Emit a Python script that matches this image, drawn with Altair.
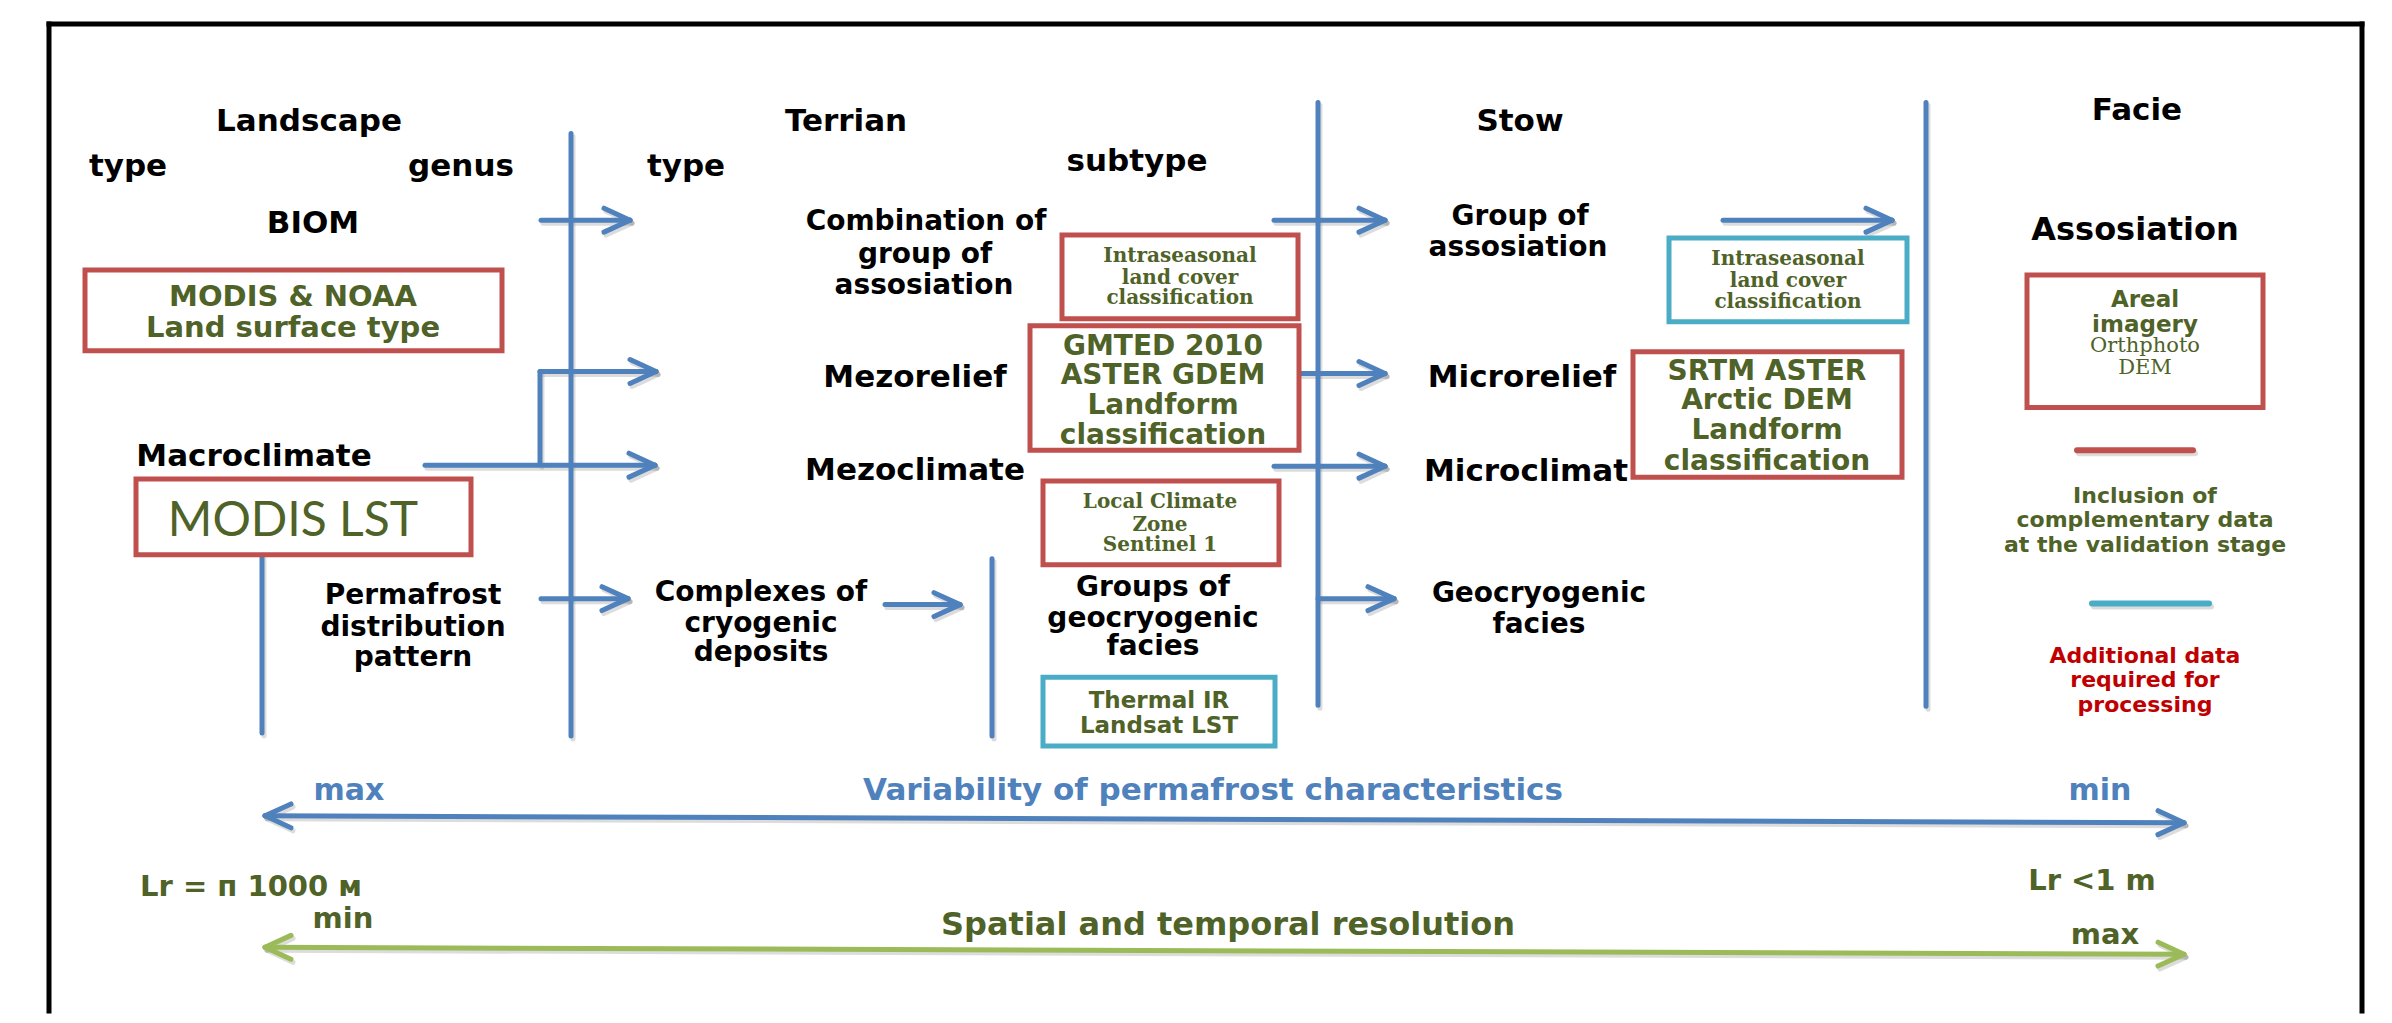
import altair as alt
import pandas as pd
import numpy as np

# ---------------- colours ----------------
BLUE = "#4f81bd"
RED = "#c0504d"
CYAN = "#4bacc6"
GREEN = "#9bbb59"
OLIVE = "#4f6228"
DARKRED = "#c00000"
BLACK = "#000000"

# ---------------- text content ----------------
header_text = ["Landscape", "type", "genus", "type", "Terrian", "subtype", "Stow", "Facie",
               "BIOM", "Combination of", "group of", "assosiation", "Group of", "assosiation",
               "Assosiation", "Mezorelief", "Microrelief", "Macroclimate", "Mezoclimate",
               "Microclimat", "Permafrost", "distribution", "pattern", "Complexes of",
               "cryogenic", "deposits", "Groups of", "geocryogenic", "facies",
               "Geocryogenic", "facies"]
header_x = [309, 128, 461, 686, 846, 1137, 1520, 2137, 313, 926, 925, 924, 1520, 1518,
            2135, 915, 1522, 254, 915, 1526, 413, 413, 413, 761, 761, 761, 1153, 1153, 1153,
            1539, 1539]
header_y = [122, 168, 168, 168, 122, 163, 122, 111, 225, 223, 256, 287, 218, 249,
            231, 379, 379, 459, 473, 474, 598, 630, 661, 595, 626, 656, 590, 621, 650,
            596, 627]
header_size = [31, 31, 31, 31, 31, 31, 31, 31, 31, 28, 28, 28, 28, 28,
               32, 31, 31, 31, 31, 31, 28, 28, 28, 28, 28, 28, 28, 28, 28, 28, 28]

olive_text = ["MODIS & NOAA", "Land surface type", "GMTED 2010", "ASTER GDEM", "Landform",
              "classification", "SRTM ASTER", "Arctic DEM", "Landform", "classification",
              "Thermal IR", "Landsat LST", "Areal", "imagery", "Inclusion of",
              "complementary data", "at the validation stage", "Lr = п 1000 м", "min",
              "Lr <1  m", "max", "Spatial and temporal resolution"]
olive_x = [293, 293, 1163, 1163, 1163, 1163, 1767, 1767, 1767, 1767, 1159, 1159, 2145, 2145,
           2145, 2145, 2145, 251, 343, 2092, 2105, 1228]
olive_y = [298, 329, 348, 377, 408, 438, 373, 403, 433, 464, 704, 729, 301, 326,
           498, 522, 547, 891, 923, 884, 939, 929]
olive_size = [29, 29, 28, 28, 28, 28, 28, 28, 28, 28, 23, 23, 23, 23, 22, 22, 22,
              29, 29, 29, 29, 32]

red_text = ["Additional data", "required for", "processing"]
red_x = [2145, 2145, 2145]
red_y = [659, 683, 708]

blue_text = ["max", "min", "Variability of permafrost characteristics"]
blue_x = [349, 2100, 1213]
blue_y = [794, 794, 794]
blue_size = [30, 30, 31]

serif_bold_text = ["Intraseasonal", "land cover", "classification",
                   "Intraseasonal", "land cover", "classification",
                   "Local Climate", "Zone", "Sentinel 1"]
serif_bold_x = [1180, 1180, 1180, 1788, 1788, 1788, 1160, 1160, 1160]
serif_bold_y = [257, 279, 299, 260, 282, 303, 504, 527, 547]

serif_text = ["Orthphoto", "DEM"]
serif_x = [2145, 2145]
serif_y = [347, 369]

lato_text = ["MODIS LST"]
lato_x = [293]
lato_y = [524]

# ---------------- boxes ----------------
box_x1 = [85, 136, 1062, 1030, 1043, 1043, 1669, 1633, 2027]
box_y1 = [271, 481, 236, 327, 483, 680, 239, 353, 276]
box_x2 = [502, 471, 1298, 1299, 1279, 1275, 1907, 1902, 2263]
box_y2 = [352, 557, 320, 452, 567, 749, 323, 479, 409]
box_col = [RED, RED, RED, RED, RED, CYAN, CYAN, RED, RED]

# ---------------- vertical dividers ----------------
vline_x = [571, 1318, 992, 1926, 262, 540]
vline_y1 = [134, 103, 561, 103, 558, 373]
vline_y2 = [739, 708, 739, 709, 736, 466]

# ---------------- arrows (tail -> tip) ----------------
arr_x1 = [541, 540, 425, 541, 885, 1274, 1301, 1274, 1318, 1723]
arr_y1 = [221, 373, 467, 601, 607, 221, 375, 468, 601, 221]
arr_x2 = [630, 656, 655, 628, 960, 1385, 1385, 1385, 1394, 1892]
arr_y2 = [221, 373, 467, 601, 607, 221, 375, 468, 601, 221]

# double arrows
darr_x1 = [265, 265]
darr_y1 = [819, 951]
darr_x2 = [2184, 2184]
darr_y2 = [826, 958]
darr_col = [BLUE, GREEN]

# legend swatches
leg_x1 = [2077, 2092]
leg_x2 = [2193, 2209]
leg_y = [452, 606]
leg_col = [RED, CYAN]

# border (left, top, right)
border_x1 = [49, 49, 2362]
border_y1 = [24, 24, 24]
border_x2 = [49, 2362, 2362]
border_y2 = [1015, 24, 1015]

# ---------------- build segment table ----------------
HEAD_L, HEAD_H = 26, 12
segs = []


def add_seg(x1, y1, x2, y2, col, w):
    segs.append(dict(x=x1, y=y1, x2=x2, y2=y2, color=col, w=w))


def add_head(tx, ty, fx, fy, col, w):
    d = np.array([tx - fx, ty - fy], dtype=float)
    d /= np.linalg.norm(d)
    n = np.array([-d[1], d[0]])
    for s in (1, -1):
        bx = tx - HEAD_L * d[0] + s * HEAD_H * n[0]
        by = ty - HEAD_L * d[1] + s * HEAD_H * n[1]
        add_seg(bx, by, tx, ty, col, w)


for x, a, b in zip(vline_x, vline_y1, vline_y2):
    add_seg(x, a, x, b, BLUE, 5)
for x1, y1, x2, y2 in zip(arr_x1, arr_y1, arr_x2, arr_y2):
    add_seg(x1, y1, x2, y2, BLUE, 5)
    add_head(x2, y2, x1, y1, BLUE, 5)
for x1, y1, x2, y2, c in zip(darr_x1, darr_y1, darr_x2, darr_y2, darr_col):
    add_seg(x1, y1, x2, y2, c, 5)
    add_head(x2, y2, x1, y1, c, 5)
    add_head(x1, y1, x2, y2, c, 5)
for x1, x2, y, c in zip(leg_x1, leg_x2, leg_y, leg_col):
    add_seg(x1, y, x2, y, c, 6)

seg_df = pd.DataFrame(segs)
shadow_df = seg_df.copy()
shadow_df[["x", "x2"]] += 2
shadow_df[["y", "y2"]] += 3

border_df = pd.DataFrame(dict(x=border_x1, y=border_y1, x2=border_x2, y2=border_y2))
box_df = pd.DataFrame(dict(x=box_x1, y=box_y1, x2=box_x2, y2=box_y2, color=box_col))

# ---------------- scales ----------------
xs = alt.Scale(domain=[8, 2384], nice=False, zero=False)
ys = alt.Scale(domain=[8, 1015], nice=False, zero=False, reverse=True)


def seg_layer(df, opacity=1.0, fixed_color=None):
    enc = dict(
        x=alt.X("x:Q", scale=xs, axis=None),
        y=alt.Y("y:Q", scale=ys, axis=None),
        x2="x2:Q",
        y2="y2:Q",
        strokeWidth=alt.StrokeWidth("w:Q", scale=None, legend=None),
    )
    if fixed_color:
        enc["color"] = alt.value(fixed_color)
    else:
        enc["color"] = alt.Color("color:N", scale=None, legend=None)
    return alt.Chart(df).mark_rule(strokeCap="round", opacity=opacity).encode(**enc)


shadow = seg_layer(shadow_df, opacity=0.35, fixed_color="#9a9a9a")
segments = seg_layer(seg_df)

border = alt.Chart(border_df).mark_rule(color=BLACK, strokeWidth=5, strokeCap="square").encode(
    x=alt.X("x:Q", scale=xs, axis=None),
    y=alt.Y("y:Q", scale=ys, axis=None),
    x2="x2:Q", y2="y2:Q",
)

boxes = alt.Chart(box_df).mark_rect(fillOpacity=0, strokeWidth=5).encode(
    x=alt.X("x:Q", scale=xs, axis=None),
    y=alt.Y("y:Q", scale=ys, axis=None),
    x2="x2:Q", y2="y2:Q",
    stroke=alt.Stroke("color:N", scale=None, legend=None),
)


def text_layer(texts, xs_, ys_, sizes, color, font, weight):
    df = pd.DataFrame(dict(t=texts, x=xs_, y=ys_, s=sizes))
    return alt.Chart(df).mark_text(font=font, fontWeight=weight, align="center",
                                   baseline="middle", color=color).encode(
        x=alt.X("x:Q", scale=xs, axis=None),
        y=alt.Y("y:Q", scale=ys, axis=None),
        text="t:N",
        size=alt.Size("s:Q", scale=None, legend=None),
    )


t_head = text_layer(header_text, header_x, header_y, header_size, BLACK, "DejaVu Sans", "bold")
t_olive = text_layer(olive_text, olive_x, olive_y, olive_size, OLIVE, "DejaVu Sans", "bold")
t_red = text_layer(red_text, red_x, red_y, [22] * 3, DARKRED, "DejaVu Sans", "bold")
t_blue = text_layer(blue_text, blue_x, blue_y, blue_size, BLUE, "DejaVu Sans", "bold")
t_serifb = text_layer(serif_bold_text, serif_bold_x, serif_bold_y, [20] * len(serif_bold_text), OLIVE, "DejaVu Serif", "bold")
t_serif = text_layer(serif_text, serif_x, serif_y, [21, 21], OLIVE, "DejaVu Serif", "normal")
t_lato = text_layer(lato_text, lato_x, lato_y, [48], OLIVE, "Lato", "normal")

chart = alt.layer(
    shadow, segments, border, boxes,
    t_head, t_olive, t_red, t_blue, t_serifb, t_serif, t_lato,
).properties(
    width=2376, height=1007,
    autosize=alt.AutoSizeParams(type="fit", contains="padding"),
    padding=0,
    background="white",
).configure_view(stroke=None)

chart.save("out.html", embed_options={"renderer": "svg", "actions": False})
